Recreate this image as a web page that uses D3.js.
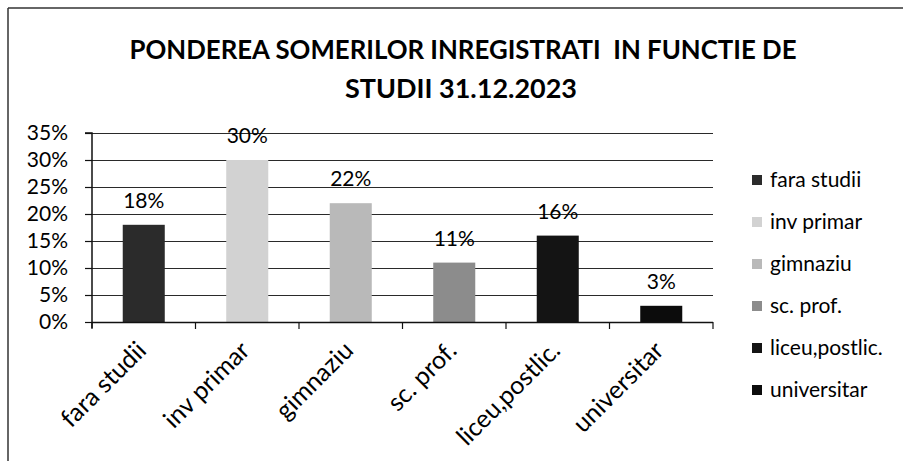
<!DOCTYPE html>
<html>
<head>
<meta charset="utf-8">
<script src="https://cdn.jsdelivr.net/npm/d3@7"></script>
<style>
  html, body { margin: 0; padding: 0; background: #fff; }
  svg { display: block; }
  text { font-family: Lato, "Open Sans", sans-serif; fill: #000; }
</style>
</head>
<body>
<div id="chart"></div>
<script>
const categories = ["fara studii", "inv primar", "gimnaziu", "sc. prof.", "liceu,postlic.", "universitar"];
const values = [0.18, 0.30, 0.22, 0.11, 0.16, 0.03];
const valueLabels = ["18%", "30%", "22%", "11%", "16%", "3%"];
const yTicks = [0, 0.05, 0.10, 0.15, 0.20, 0.25, 0.30, 0.35];
const yTickLabels = ["0%", "5%", "10%", "15%", "20%", "25%", "30%", "35%"];
const barColors = ["#2b2b2b", "#d2d2d2", "#b9b9b9", "#8c8c8c", "#141414", "#0c0c0c"];
const titleLines = ["PONDEREA SOMERILOR INREGISTRATI  IN FUNCTIE DE", "STUDII 31.12.2023"];

const W = 903, H = 461;
const svg = d3.select("#chart").append("svg").attr("width", W).attr("height", H);

// frame
svg.append("line").attr("x1", 8).attr("y1", 8).attr("x2", W).attr("y2", 8)
  .attr("stroke", "#333").attr("stroke-width", 1.5);
svg.append("line").attr("x1", 8).attr("y1", 8).attr("x2", 8).attr("y2", H)
  .attr("stroke", "#333").attr("stroke-width", 1.5);

// title
svg.append("text").attr("x", 463).attr("y", 59).attr("text-anchor", "middle")
  .attr("font-weight", "bold").attr("font-size", 26)
  .attr("textLength", 667).attr("lengthAdjust", "spacingAndGlyphs")
  .style("white-space", "pre").text(titleLines[0]);
svg.append("text").attr("x", 461).attr("y", 98).attr("text-anchor", "middle")
  .attr("font-weight", "bold").attr("font-size", 26)
  .attr("textLength", 232).attr("lengthAdjust", "spacingAndGlyphs")
  .text(titleLines[1]);

const x0 = 92, x1 = 713, yBase = 322, yTop = 133;
const x = d3.scaleBand().domain(categories).range([x0, x1]).paddingInner(0.594).paddingOuter(0.297);
const y = d3.scaleLinear().domain([0, 0.35]).range([yBase, yTop]);

// gridlines
svg.append("g").selectAll("line").data(yTicks.slice(1)).join("line")
  .attr("x1", x0 - 7).attr("x2", x1)
  .attr("y1", d => Math.round(y(d)) + 0.5).attr("y2", d => Math.round(y(d)) + 0.5)
  .attr("stroke", "#2a2a2a").attr("stroke-width", 1.2);

// bars
svg.append("g").selectAll("rect").data(values).join("rect")
  .attr("x", (d, i) => x(categories[i]))
  .attr("width", x.bandwidth())
  .attr("y", d => y(d))
  .attr("height", d => yBase - y(d))
  .attr("fill", (d, i) => barColors[i]);

// y axis
const yAxis = d3.axisLeft(y).tickValues(yTicks).tickSize(7).tickFormat((d, i) => yTickLabels[i]);
const gy = svg.append("g").attr("transform", `translate(${x0},0)`).call(yAxis);
gy.select(".domain").attr("stroke", "#111").attr("stroke-width", 1.5).attr("d", `M-7,${yTop}H0V${yBase + 6}`);
gy.selectAll(".tick line").attr("stroke", "#111").attr("stroke-width", 1.2);
gy.selectAll(".tick text").attr("x", -24).attr("font-size", 21).attr("font-family", "Lato, sans-serif").attr("fill", "#000");

// x axis line + ticks at boundaries
const boundaries = categories.map(c => x(c) - (x.step() - x.bandwidth()) / 2).concat([x1]);
svg.append("line").attr("x1", x0).attr("x2", x1).attr("y1", yBase + 0.5).attr("y2", yBase + 0.5)
  .attr("stroke", "#111").attr("stroke-width", 1.5);
svg.append("g").selectAll("line").data(boundaries).join("line")
  .attr("x1", d => d).attr("x2", d => d).attr("y1", yBase).attr("y2", yBase + 7)
  .attr("stroke", "#111").attr("stroke-width", 1.2);

// x labels
svg.append("g").selectAll("text").data(categories).join("text")
  .attr("text-anchor", "end")
  .attr("font-size", 25)
  .attr("transform", d => `translate(${x(d) + x.bandwidth() / 2 + 4},${yBase + 30}) rotate(-45)`)
  .text(d => d);

// value labels
svg.append("g").selectAll("text").data(values).join("text")
  .attr("text-anchor", "middle").attr("font-size", 21)
  .attr("x", (d, i) => x(categories[i]) + x.bandwidth() / 2)
  .attr("y", d => y(d) - 17)
  .text((d, i) => valueLabels[i]);

// legend
const lg = svg.append("g").selectAll("g").data(categories).join("g")
  .attr("transform", (d, i) => `translate(752,${180 + i * 42})`);
lg.append("rect").attr("x", 0).attr("y", -5).attr("width", 10).attr("height", 10)
  .attr("fill", (d, i) => barColors[i]);
lg.append("text").attr("x", 18).attr("y", 0).attr("dy", "0.35em").attr("font-size", 21).text(d => d);
</script>
</body>
</html>
